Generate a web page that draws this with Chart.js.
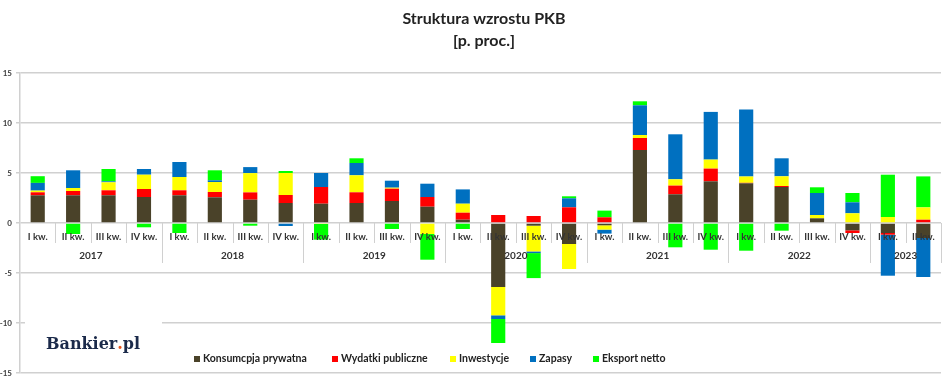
<!DOCTYPE html>
<html>
<head>
<meta charset="utf-8">
<script src="https://cdn.jsdelivr.net/npm/chart.js@4/dist/chart.umd.min.js"></script>
<style>
html,body{margin:0;padding:0;background:#fff;}
#wrap{width:948px;height:380px;position:relative;}
</style>
</head>
<body>
<div id="wrap"><canvas id="c" width="948" height="380"></canvas></div>
<script>
// ---- data ----
const quarterLabels = [
  'I kw.','II kw.','III kw.','IV kw.',
  'I kw.','II kw.','III kw.','IV kw.',
  'I kw.','II kw.','III kw.','IV kw.',
  'I kw.','II kw.','III kw.','IV kw.',
  'I kw.','II kw.','III kw.','IV kw.',
  'I kw.','II kw.','III kw.','IV kw.',
  'I kw.','II kw.'
];
const years = ['2017','2018','2019','2020','2021','2022','2023'];
const yearSpans = [4,4,4,4,4,4,2];
const yTicks = [-15,-10,-5,0,5,10,15];
const titleLines = ['Struktura wzrostu PKB', '[p. proc.]'];

const konsumpcja = [2.77,2.77,2.77,2.6, 2.77,2.57,2.33,2.0, 1.93,2.0,2.2,1.63, 0.33,-6.4,-0.27,-2.1, -0.23,7.3,2.87,4.17, 3.97,3.6,0.47,-0.73, -1.0,-1.5];
const wydatki    = [0.3,0.43,0.5,0.8, 0.5,0.53,0.73,0.8, 1.67,1.07,1.23,0.97, 0.7,0.8,0.7,1.57, 0.57,1.2,0.87,1.27, 0.05,0.1,0.0,-0.27, -0.17,0.33];
const inwestycje = [0.17,0.3,0.8,1.43, 1.33,1.0,1.93,2.2, -0.1,1.7,0.1,-1.1, 0.9,-2.83,-2.57,-2.5, -0.43,0.3,0.63,0.9, 0.63,0.97,0.33,0.97, 0.6,1.23];
const zapasy     = [0.77,1.77,0.1,0.57, 1.5,0.17,0.6,-0.3, 1.4,1.23,0.7,1.33, 1.43,-0.37,-0.17,0.9, -0.4,2.97,4.5,4.77, 6.7,1.8,2.2,1.1, -4.1,-3.9];
const eksport    = [0.67,-1.1,1.23,-0.43, -1.0,1.0,-0.27,0.2, -1.57,0.47,-0.6,-2.57, -0.6,-2.4,-2.5,0.2, 0.67,0.4,-2.43,-2.67, -2.77,-0.77,0.57,0.93, 4.23,3.1];

const seriesNames = ['Konsumcpja prywatna','Wydatki publiczne','Inwestycje','Zapasy','Eksport netto'];
const seriesColors = ['#4a4229','#ff0000','#ffff00','#0070c0','#00ff00'];
const seriesData = [konsumpcja, wydatki, inwestycje, zapasy, eksport];

const FONT = 'Lato, "Open Sans", sans-serif';
const legendX = [194, 332, 450, 530, 593];

const axisPlugin = {
  id: 'customAxis',
  beforeDatasetsDraw(chart) {
    const ctx = chart.ctx;
    const y = chart.scales.y;
    ctx.save();
    // title
    ctx.fillStyle = '#222222';
    ctx.font = 'bold 16px ' + FONT;
    ctx.textAlign = 'center';
    ctx.textBaseline = 'alphabetic';
    ctx.fillText(titleLines[0], 484, 23.5);
    ctx.fillText(titleLines[1], 484, 45.5);
    // logo box
    ctx.fillStyle = '#ffffff';
    ctx.fillRect(25, y.getPixelForValue(-10) - 3, 137, 40);
    ctx.font = 'bold 16px "DejaVu Serif", "Liberation Serif", serif';
    ctx.textAlign = 'left';
    let lx = 46, ly = 349;
    ctx.fillStyle = '#1b2a4a';
    ctx.fillText('Bankier', lx, ly);
    lx += ctx.measureText('Bankier').width;
    ctx.fillStyle = '#e8541c';
    ctx.fillText('.', lx, ly);
    lx += ctx.measureText('.').width;
    ctx.fillStyle = '#1b2a4a';
    ctx.fillText('pl', lx, ly);
    ctx.restore();
  },
  afterDatasetsDraw(chart) {
    const ctx = chart.ctx;
    const x = chart.scales.x;
    const y = chart.scales.y;
    const area = chart.chartArea;
    const n = quarterLabels.length;
    const w = (area.right - area.left) / n;
    const y0 = y.getPixelForValue(0);
    ctx.save();
    // separators
    ctx.strokeStyle = '#d0d0d0';
    ctx.lineWidth = 1;
    let idx = 0;
    const yearBounds = new Set();
    yearSpans.forEach(s => { idx += s; yearBounds.add(idx); });
    for (let i = 1; i <= n; i++) {
      const bx = Math.round(area.left + i * w) + 0.5;
      const len = yearBounds.has(i) ? 40 : 20;
      ctx.beginPath();
      ctx.moveTo(bx, y0);
      ctx.lineTo(bx, y0 + len);
      ctx.stroke();
    }
    // quarter labels
    ctx.fillStyle = '#333333';
    ctx.font = 'bold 9.5px ' + FONT;
    ctx.textAlign = 'center';
    ctx.textBaseline = 'middle';
    for (let i = 0; i < n; i++) {
      ctx.fillText(quarterLabels[i], x.getPixelForValue(i), y0 + 14);
    }
    // year labels
    ctx.font = 'bold 10px ' + FONT;
    let start = 0;
    years.forEach((yr, k) => {
      const end = start + yearSpans[k];
      const cx = area.left + (start + end) / 2 * w;
      ctx.fillText(yr, cx, y0 + 33);
      start = end;
    });
    // legend
    ctx.font = 'bold 10.5px ' + FONT;
    ctx.textAlign = 'left';
    const ly = 359;
    chart.data.datasets.forEach((ds, i) => {
      const lx = legendX[i];
      ctx.fillStyle = ds.backgroundColor;
      ctx.fillRect(lx, ly - 3, 6, 6);
      ctx.fillStyle = '#222222';
      ctx.fillText(ds.label, lx + 9, ly);
    });
    ctx.restore();
  }
};

new Chart(document.getElementById('c'), {
  type: 'bar',
  data: {
    labels: quarterLabels.map((q, i) => i),
    datasets: seriesNames.map((name, i) => ({
      label: name,
      data: seriesData[i],
      backgroundColor: seriesColors[i],
      borderWidth: 0,
      barPercentage: 0.5,
      categoryPercentage: 0.8
    }))
  },
  options: {
    responsive: false,
    animation: false,
    layout: { padding: { left: 0, right: 7, top: 73, bottom: 7 } },
    plugins: {
      legend: { display: false },
      tooltip: { enabled: false },
      title: { display: false }
    },
    scales: {
      x: { stacked: true, display: false },
      y: {
        stacked: true,
        min: -15, max: 15,
        afterBuildTicks: s => { s.ticks = yTicks.map(v => ({ value: v })); },
        afterFit: s => { s.width = 20; s.paddingTop = 0; s.paddingBottom = 0; },
        ticks: { color: '#404040', font: { family: FONT, size: 8, weight: 'bold' }, padding: 4 },
        grid: { color: '#d0d0d0', lineWidth: 1.5, tickLength: 4 },
        border: { display: true, color: '#d0d0d0', width: 1.5 }
      }
    }
  },
  plugins: [axisPlugin]
});
</script>
</body>
</html>
